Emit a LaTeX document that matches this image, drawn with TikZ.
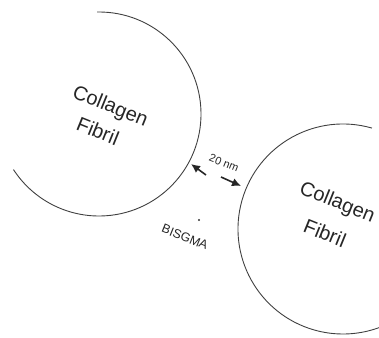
\documentclass[tikz,border=0pt]{standalone}
\usepackage{fontspec}
\setmainfont{Liberation Sans}
\usetikzlibrary{arrows.meta}

\begin{document}
\begin{tikzpicture}[x=1pt,y=1pt,
  fibril/.style={draw=black!75, line width=0.9pt},
  lbl/.style={text=black!85, rotate=-22, inner sep=0pt},
  big/.style={lbl, font=\fontsize{20}{24}\selectfont},
  gap/.style={-{Latex[length=9pt,width=8.5pt]}, line width=1.6pt, black!85}]
  \useasboundingbox (0,0) rectangle (379,-337);

  % the two fibrils, seen end on
  \coordinate (fl) at (99,-114);
  \coordinate (fr) at (343,-229);
  \draw[fibril] (fl) ++(91:102) arc[start angle=91, end angle=-147, radius=102];
  \draw[fibril] (fr) ++(74:105) arc[start angle=74, end angle=290, radius=105];

  \node[big] (fibla) at (110,-107) {Collagen};
  \node[big] (fiblb) at (98,-131) {Fibril};
  \node[big] (fibra) at (337,-203) {Collagen};
  \node[big] (fibrb) at (325,-233) {Fibril};

  % gap between them
  \coordinate (al) at (206,-175);
  \coordinate (ah) at (191,-164);
  \coordinate (bl) at (221,-177);
  \coordinate (bh) at (241,-186);
  \draw[gap] (al) -- (ah);
  \draw[gap] (bl) -- (bh);
  \node[lbl, font=\fontsize{11}{13}\selectfont] (gaplbl) at (224,-163) {20 nm};

  \node[circle, fill=black!80, inner sep=0pt, minimum size=2.2pt] (resin) at (199,-220) {};
  \node[lbl, font=\fontsize{12.5}{15}\selectfont] (bisgma) at (185,-237) {BISGMA};
\end{tikzpicture}
\end{document}
